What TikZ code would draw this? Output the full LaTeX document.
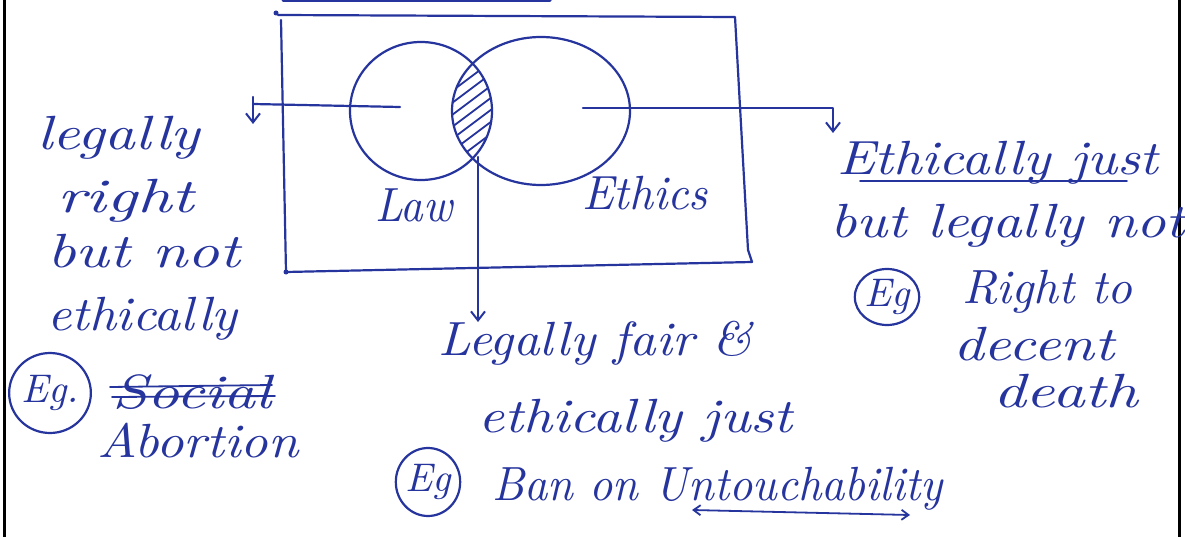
\documentclass[tikz,border=0pt]{standalone}
\usepackage{fontspec}
\usetikzlibrary{arrows.meta,shapes.geometric}
\newfontfamily\handfont{lmroman10-italic.otf}
\definecolor{ink}{RGB}{38,52,158}
\newcommand{\hw}[2]{\scalebox{#1}[1]{#2}}
\begin{document}
\begin{tikzpicture}[x=1pt,y=-1pt,
  inkline/.style={draw=ink,line width=2.2pt,line cap=round,line join=round},
  hand/.style={text=ink,font=\fontsize{48}{54}\handfont,anchor=base west,inner sep=0pt},
  egc/.style={ellipse,draw=ink,line width=2.2pt,inner sep=0pt,text=ink,font=\fontsize{40}{42}\handfont},
  venn/.style={ellipse,draw=ink,line width=2.2pt,inner sep=0pt},
  arr/.style={-{Straight Barb[length=9pt,width=14pt,line width=2pt]}},
  border/.style={draw=black,line width=3pt}]
\useasboundingbox (0,0) rectangle (1185,537);
\fill[white] (0,0) rectangle (1185,537);
% page borders
\draw[border] (4,0) -- (4,537);
\draw[border] (1179,0) -- (1179,537);
\draw[inkline,line width=3pt] (283,1) -- (550,1);
% frame
\coordinate (tl) at (278,15);
\coordinate (tr) at (735,17);
\coordinate (rm) at (748,250);
\coordinate (br) at (752,262);
\coordinate (bl) at (286,272);
\coordinate (lt) at (281,20);
\fill[ink] (276,13) circle (2.5pt);
\fill[ink] (286,272) circle (2.5pt);
\draw[inkline] (tl) -- (tr) -- (rm) -- (br) -- (bl);
\draw[inkline] (lt) -- (bl);
% venn
\node[venn,minimum width=142pt,minimum height=138pt] (law) at (421,111) {};
\node[venn,minimum width=178pt,minimum height=148pt] (eth) at (541,111) {};
\begin{scope}
\clip (421,111) ellipse [x radius=71, y radius=69];
\clip (541,111) ellipse [x radius=89, y radius=74];
\foreach \k in {0,...,13} \draw[draw=ink,line width=1.8pt] (440,{76+\k*12}) -- ++(60,-45);
\end{scope}
% connectors
\coordinate (lawc) at (400,107);
\coordinate (lawend) at (253,104);
\coordinate (lawtick) at (253,97);
\coordinate (lawtip) at (253,124);
\draw[inkline] (lawc) -- (lawend);
\draw[inkline,arr] (lawtick) -- (lawtip);
\coordinate (ethc) at (583,108);
\coordinate (ethend) at (833,108);
\coordinate (ethtip) at (833,133);
\draw[inkline,arr] (ethc) -- (ethend) -- (ethtip);
\coordinate (lens) at (478,157);
\coordinate (midtip) at (478,322);
\draw[inkline,arr] (lens) -- (midtip);
% labels
\node[hand] (lawlbl) at (375,222) {\hw{0.92}{Law}};
\node[hand] (ethlbl) at (582,210) {\hw{0.97}{Ethics}};
% left text
\node[hand] (l1) at (37,150) {\hw{1.25}{legally}};
\node[hand] (l2) at (57,213) {\hw{1.4}{right}};
\node[hand] (l3) at (47,268) {\hw{1.3}{but not}};
\node[hand] (l4) at (47,330) {\hw{1.1}{ethically}};
\node[egc,minimum width=78pt,minimum height=80pt] (eg1) at (50,393) {Eg.};
\node[hand] (l5) at (112,408) {\hw{1.3}{Social}};
\draw[inkline,line width=1.8pt] (110,387) -- (272,385);
\draw[inkline,line width=1.8pt] (112,397) -- (275,396);
\node[hand] (l6) at (97,457) {\hw{1.12}{Abortion}};
% right text
\node[hand] (r1) at (837,175) {\hw{1.16}{Ethically just}};
\draw[inkline,line width=1.8pt] (860,181) -- (1127,181);
\node[hand] (r2) at (830,238) {\hw{1.2}{but legally not}};
\node[egc,minimum width=64pt,minimum height=56pt] (eg2) at (887,297) {Eg};
\node[hand] (r3) at (962,303) {\hw{1.01}{Right to}};
\node[hand] (r4) at (953,360) {\hw{1.25}{decent}};
\node[hand] (r5) at (993,407) {\hw{1.33}{death}};
% middle text
\node[hand] (m1) at (438,355) {\hw{1.08}{Legally fair \&}};
\node[hand] (m2) at (478,432) {\hw{1.18}{ethically just}};
\node[egc,minimum width=62pt,minimum height=68pt] (eg3) at (428,482) {Eg};
\node[hand] (m3) at (492,500) {\hw{0.95}{Ban on Untouchability}};
\draw[inkline,line width=1.8pt,{Straight Barb[length=7pt,width=10pt]}-{Straight Barb[length=7pt,width=10pt]}] (692,510) -- (910,515);
\end{tikzpicture}
\end{document}
